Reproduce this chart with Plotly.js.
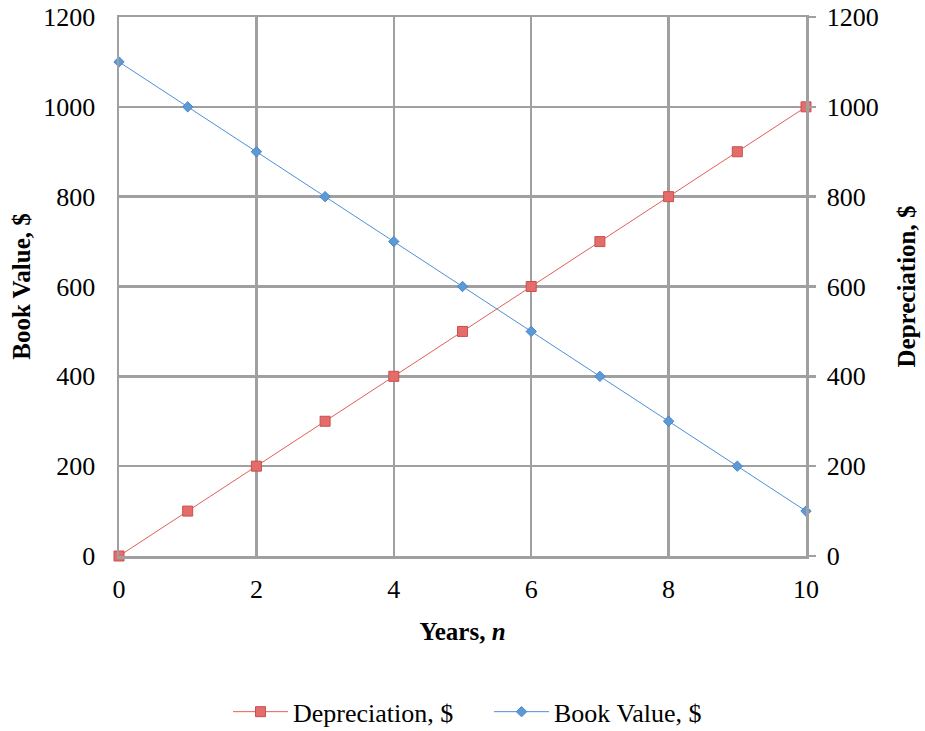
<!DOCTYPE html>
<html>
<head>
<meta charset="utf-8">
<script src="https://cdn.plot.ly/plotly-3.0.1.min.js"></script>
<style>html,body{margin:0;padding:0;background:#fff;}</style>
</head>
<body>
<div id="chart" style="width:925px;height:731px;"></div>
<script>
const years = [0, 1, 2, 3, 4, 5, 6, 7, 8, 9, 10];
const depreciation = [0, 100, 200, 300, 400, 500, 600, 700, 800, 900, 1000];
const bookValue = [1100, 1000, 900, 800, 700, 600, 500, 400, 300, 200, 100];
const yTicks = [0, 200, 400, 600, 800, 1000, 1200];
const xTicks = [0, 2, 4, 6, 8, 10];

const FAM = 'Liberation Serif';
const tickFont = {family: FAM, size: 26, color: '#000'};
const titleFont = {family: FAM, size: 25, color: '#000'};
const legendFont = {family: FAM, size: 26, color: '#000'};
const gridColor = '#a0a0a0';

const traces = [
  {
    x: years, y: depreciation, name: 'Depreciation, $', yaxis: 'y2',
    mode: 'lines+markers', type: 'scatter', cliponaxis: false,
    line: {color: '#e0605c', width: 1},
    marker: {symbol: 'square', size: 10, color: '#e46c6a', line: {color: '#c9504d', width: 1}}
  },
  {
    x: years, y: bookValue, name: 'Book Value, $', yaxis: 'y',
    mode: 'lines+markers', type: 'scatter', cliponaxis: false,
    line: {color: '#4f8fd8', width: 1},
    marker: {symbol: 'diamond', size: 8, color: '#5b9bd5', line: {color: '#4f85c5', width: 1}}
  }
];

const layout = {
  width: 925, height: 731,
  margin: {l: 119, r: 119, t: 17, b: 175, autoexpand: false},
  paper_bgcolor: '#fff', plot_bgcolor: '#fff',
  font: tickFont,
  showlegend: true,
  legend: {orientation: 'h', x: 0.1587, xanchor: 'left', y: -0.289, yanchor: 'middle',
           font: legendFont, traceorder: 'normal', itemwidth: 55,
           entrywidth: 191, entrywidthmode: 'pixels'},
  xaxis: {
    range: [0, 10], tickvals: xTicks, ticktext: xTicks.map(String),
    showgrid: true, gridcolor: gridColor, gridwidth: 2.5,
    zeroline: false, showline: true, mirror: true, linecolor: gridColor, linewidth: 2.5,
    ticks: '', ticklabelstandoff: 8, automargin: false,
    tickfont: tickFont,
    title: {text: '<b>Years, <i>n</i></b>', font: titleFont, standoff: 20}
  },
  yaxis: {
    range: [0, 1200], tickvals: yTicks, ticktext: yTicks.map(String),
    showgrid: true, gridcolor: gridColor, gridwidth: 2.5,
    zeroline: false, showline: true, linecolor: gridColor, linewidth: 2.5,
    ticks: '', ticklabelstandoff: 16, automargin: false,
    tickfont: tickFont,
    title: {text: '<b>Book Value, $</b>', font: titleFont, standoff: 6}
  },
  yaxis2: {
    range: [0, 1200], tickvals: yTicks, ticktext: yTicks.map(String),
    overlaying: 'y', side: 'right',
    showgrid: false, zeroline: false, showline: true, linecolor: gridColor, linewidth: 2.5,
    ticks: 'outside', ticklen: 7, tickcolor: gridColor, tickwidth: 2.5,
    ticklabelstandoff: 6, automargin: false,
    tickfont: tickFont,
    title: {text: '<b>Depreciation, $</b>', font: titleFont, standoff: 20}
  }
};

Plotly.newPlot('chart', traces, layout, {displayModeBar: false, staticPlot: true});
</script>
</body>
</html>
